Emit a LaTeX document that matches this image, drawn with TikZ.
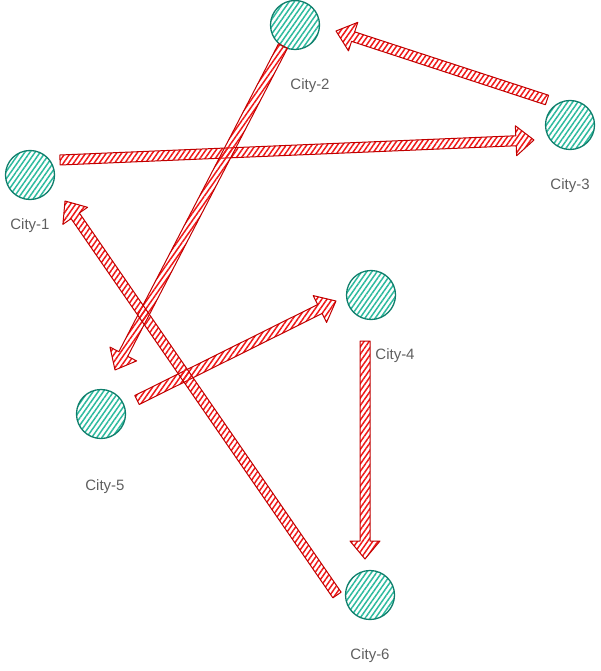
\documentclass[tikz,border=0pt]{standalone}
\usepackage{fontspec}
\setmainfont{Liberation Sans}
\usetikzlibrary{calc,patterns.meta}

\definecolor{cityline}{HTML}{0F7F6C}
\definecolor{cityfill}{HTML}{2DBA9E}
\definecolor{roadline}{HTML}{C00000}
\definecolor{roadfill}{HTML}{F01818}
\definecolor{labelgray}{HTML}{5F5F5F}

\tikzset{
	city/.style={circle,draw=cityline,line width=1.3pt,minimum size=49pt,inner sep=0pt,
		pattern={Lines[angle=55,distance=4.2pt,line width=1.5pt]},pattern color=cityfill},
	citylabel/.style={text=labelgray,font=\fontsize{15}{18}\selectfont},
	road/.style={draw=roadline,line width=1pt,line join=round,
		pattern={Lines[angle=55,distance=4.2pt,line width=1.5pt]},pattern color=roadfill}
}

% block arrow from #1 to #2
\newcommand{\road}[2]{%
	\path let \p1=(#1), \p2=(#2) in \pgfextra{%
		\pgfmathsetmacro\roadang{atan2(\y2-\y1,\x2-\x1)}\global\let\roadang\roadang
		\pgfmathsetmacro\roadlen{veclen(\x2-\x1,\y2-\y1)}\global\let\roadlen\roadlen};
	\begin{scope}[shift={(#1)},rotate=\roadang,x=1pt,y=1pt]
		\draw[road] (0,-5) -- (\roadlen-18,-5) -- (\roadlen-18,-15) -- (\roadlen,0)
			-- (\roadlen-18,15) -- (\roadlen-18,5) -- (0,5) -- cycle;
	\end{scope}}

\begin{document}
\begin{tikzpicture}[x=1pt,y=-1pt]
		\useasboundingbox (0,0) rectangle (601,671);

		\node[city] (city1) at (30,175) {};
		\node[city] (city2) at (295,25) {};
		\node[city] (city3) at (570,125) {};
		\node[city] (city4) at (371,295) {};
		\node[city] (city5) at (101,414) {};
		\node[city] (city6) at (370,595) {};

		\node[citylabel] (lab1) at (30,226) {City-1};
		\node[citylabel] (lab2) at (310,86) {City-2};
		\node[citylabel] (lab3) at (570,186) {City-3};
		\node[citylabel] (lab4) at (395,356) {City-4};
		\node[citylabel] (lab5) at (105,487) {City-5};
		\node[citylabel] (lab6) at (370,656) {City-6};

		% ends of the roads
		\coordinate (r13s) at (60,160);   \coordinate (r13e) at (534,140);
		\coordinate (r32s) at (547,100);  \coordinate (r32e) at (336,31);
		\coordinate (r25s) at (283,46);   \coordinate (r25e) at (115,370);
		\coordinate (r54s) at (137,400);  \coordinate (r54e) at (336,301);
		\coordinate (r46s) at (365,341);  \coordinate (r46e) at (365,559);
		\coordinate (r61s) at (337,595);  \coordinate (r61e) at (65,201);

		\road{r13s}{r13e}
		\road{r32s}{r32e}
		\road{r25s}{r25e}
		\road{r54s}{r54e}
		\road{r46s}{r46e}
		\road{r61s}{r61e}
\end{tikzpicture}
\end{document}
